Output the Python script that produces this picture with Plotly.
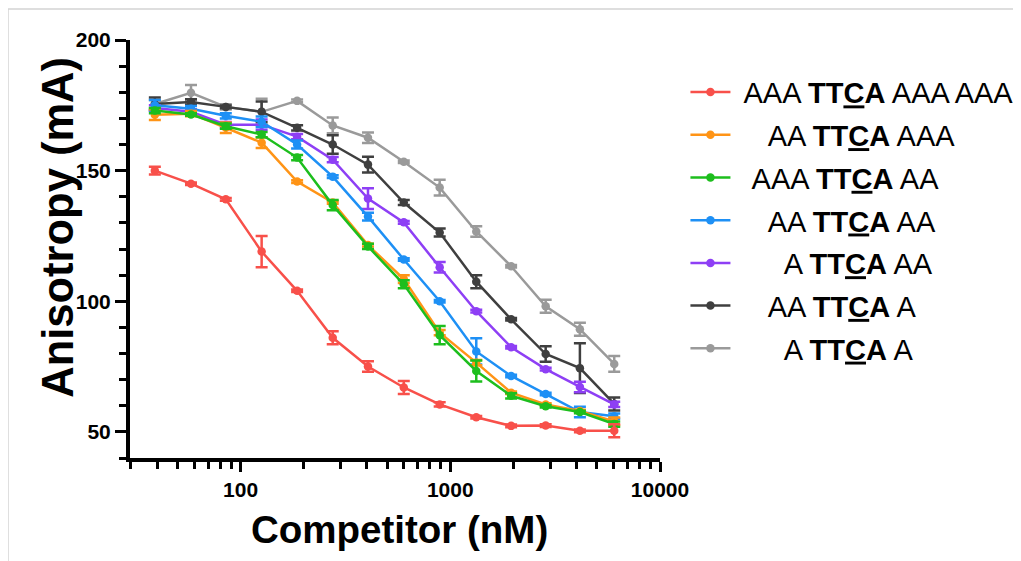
import plotly.graph_objects as go

conc = [39, 58, 85, 126, 186, 275, 405, 600, 890, 1330, 1950, 2850, 4150, 6050]

names = [
    "\u00a0AAA <b>TT<u>C</u>A</b> AAA AAA",
    "\u00a0\u00a0\u00a0\u00a0AA <b>TT<u>C</u>A</b> AAA",
    "\u00a0\u00a0AAA <b>TT<u>C</u>A</b> AA",
    "\u00a0\u00a0\u00a0\u00a0AA <b>TT<u>C</u>A</b> AA",
    "\u00a0\u00a0\u00a0\u00a0\u00a0\u00a0A <b>TT<u>C</u>A</b> AA",
    "\u00a0\u00a0\u00a0\u00a0AA <b>TT<u>C</u>A</b> A",
    "\u00a0\u00a0\u00a0\u00a0\u00a0\u00a0A <b>TT<u>C</u>A</b> A",
]

red = [150, 145, 139, 119, 104, 86, 75, 67, 60.5, 55.6, 52.3, 52.4, 50.4, 50.4]
red_err = [1.5, 0.5, 0.5, 6, 0.5, 2.5, 2, 2.5, 0.8, 0.5, 0.5, 0.5, 0.5, 2.5]

orange = [171.4, 171.8, 166.4, 160.7, 145.8, 137.8, 121.5, 108.5, 88, 76.5, 65, 60.5, 58, 54]
orange_err = [2, 1, 2, 2, 0.5, 0.5, 0.5, 1.5, 1, 1, 0.5, 0.5, 0.5, 1.5]

green = [173, 171.5, 167, 163.8, 155, 136.8, 121, 106.5, 87, 73.3, 63.8, 59.8, 57.6, 53]
green_err = [1, 0.5, 1, 1, 1, 2, 1, 1.5, 3.5, 4, 1, 0.5, 0.5, 1]

blue = [175, 173.7, 171, 168.7, 160, 147.7, 132.4, 116, 100, 80.8, 71.4, 64.5, 57.6, 56]
blue_err = [2, 1, 1, 2, 1.5, 0.5, 1.5, 0.5, 0.5, 5, 0.5, 0.5, 2, 1]

purple = [174, 172.5, 167.6, 167.6, 163, 154.2, 139.3, 130.2, 113, 96.2, 82.4, 74, 67.2, 60.5]
purple_err = [1, 1, 1, 2, 1, 1, 4, 0.5, 2, 0.5, 0.5, 0.5, 2, 1]

dark = [175.5, 176.3, 174.4, 172.5, 166.4, 160, 152.3, 137.8, 126.3, 107.5, 93.1, 79.8, 74.4, 60.7]
dark_err = [2.5, 1, 0.5, 4, 1, 3.5, 3, 1, 1.5, 2.5, 0.5, 3, 9.5, 2.5]

gray = [175.5, 179.8, 174.4, 172.5, 176.7, 167.3, 162.6, 153.4, 143.5, 126.7, 113.4, 98.1, 89.3, 76]
gray_err = [1.5, 3, 1, 5, 0.5, 3, 2, 0.5, 3, 2, 0.5, 2.5, 2.5, 3]

series = [
    (red, red_err, "#F8504A"),
    (orange, orange_err, "#FF9416"),
    (green, green_err, "#1DBE1D"),
    (blue, blue_err, "#1E90F5"),
    (purple, purple_err, "#8E3FF5"),
    (dark, dark_err, "#3F3F3F"),
    (gray, gray_err, "#9A9A9A"),
]

draw_order = [6, 5, 4, 3, 1, 2, 0]

fig = go.Figure()
for i in draw_order:
    vals, errs, col = series[i]
    fig.add_trace(go.Scatter(
        x=conc, y=vals, name=names[i], mode="lines+markers",
        line=dict(color=col, width=2.5),
        marker=dict(color=col, size=8.5),
        error_y=dict(type="data", array=errs, visible=True, color=col,
                     thickness=2.5, width=6),
        legendrank=i + 1, legendgroup="g%d" % i,
    ))

fig.update_layout(
    width=1013, height=553,
    margin=dict(l=122, r=361, t=32, b=103, autoexpand=False),
    paper_bgcolor="white", plot_bgcolor="white",
    font=dict(family="Arial, Liberation Sans", color="black"),
    showlegend=True,
    legend=dict(x=1.048, y=0.936, xanchor="left", yanchor="top",
                font=dict(size=29, color="black"),
                tracegroupgap=2, itemwidth=40,
                bgcolor="rgba(0,0,0,0)"),
    shapes=[dict(type="rect", xref="paper", yref="paper",
                 x0=-0.2302, x1=2.0, y0=-0.5, y1=1.0742,
                 line=dict(color="#D4D4D4", width=1.5),
                 fillcolor="rgba(0,0,0,0)", layer="below")],
    annotations=[
        dict(text="<b>Anisotropy (mA)</b>", xref="paper", yref="paper",
             x=-0.136, y=0.553, textangle=-90, showarrow=False,
             font=dict(size=43.5, color="black"),
             xanchor="center", yanchor="middle"),
        dict(text="<b>Competitor (nM)</b>", xref="paper", yref="paper",
             x=0.509, y=-0.172, showarrow=False,
             font=dict(size=38.5, color="black"),
             xanchor="center", yanchor="middle"),
    ],
)

fig.update_xaxes(
    type="log", range=[1.4726, 4.0],
    tickvals=[100, 1000, 10000], ticktext=["100", "1000", "10000"],
    ticks="outside", ticklen=10, tickwidth=3, tickcolor="black",
    showline=True, linewidth=4, linecolor="black",
    showgrid=False, zeroline=False,
    tickfont=dict(size=21, weight="bold"),
    minor=dict(ticks="outside", ticklen=7, tickwidth=3, tickcolor="black",
               dtick="D1", showgrid=False),
)
fig.update_yaxes(
    range=[40, 200],
    tickvals=[50, 100, 150, 200],
    ticks="outside", ticklen=11, tickwidth=3, tickcolor="black",
    showline=True, linewidth=4, linecolor="black",
    showgrid=False, zeroline=False,
    tickfont=dict(size=21, weight="bold"),
    minor=dict(ticks="outside", ticklen=7, tickwidth=3, tickcolor="black",
               dtick=10, showgrid=False),
)

fig.write_html("out.html")
